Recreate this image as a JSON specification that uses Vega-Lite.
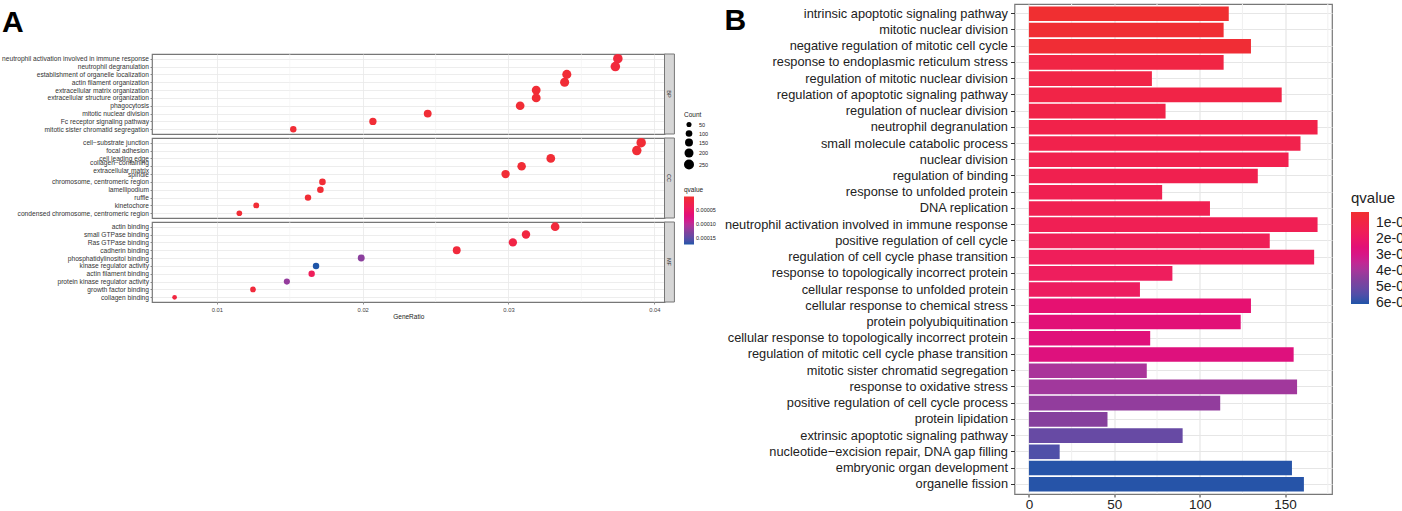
{
  "$schema": "https://vega.github.io/schema/vega-lite/v6.json",
  "padding": {"left": 0, "top": 2, "right": 0, "bottom": 0},
  "background": "white",
  "spacing": 6.5,
  "resolve": {"scale": {"color": "independent", "size": "independent"}, "legend": {"color": "independent", "size": "independent"}},
  "config": {
    "font": "Liberation Sans",
    "view": {"stroke": "#777777", "strokeWidth": 1.2}
  },
  "datasets": {
    "dots": [
      {"panel": "BP", "term": "neutrophil activation involved in immune response", "GeneRatio": 0.0375, "Count": 225, "qvalue": 0.00001},
      {"panel": "BP", "term": "neutrophil degranulation", "GeneRatio": 0.03733, "Count": 224, "qvalue": 0.00001},
      {"panel": "BP", "term": "establishment of organelle localization", "GeneRatio": 0.034, "Count": 204, "qvalue": 0.000005},
      {"panel": "BP", "term": "actin filament organization", "GeneRatio": 0.03385, "Count": 203, "qvalue": 0.000005},
      {"panel": "BP", "term": "extracellular matrix organization", "GeneRatio": 0.0319, "Count": 191, "qvalue": 0.000005},
      {"panel": "BP", "term": "extracellular structure organization", "GeneRatio": 0.0319, "Count": 191, "qvalue": 0.000005},
      {"panel": "BP", "term": "phagocytosis", "GeneRatio": 0.0308, "Count": 185, "qvalue": 0.000005},
      {"panel": "BP", "term": "mitotic nuclear division", "GeneRatio": 0.02446, "Count": 147, "qvalue": 0.000005},
      {"panel": "BP", "term": "Fc receptor signaling pathway", "GeneRatio": 0.0207, "Count": 124, "qvalue": 0.000005},
      {"panel": "BP", "term": "mitotic sister chromatid segregation", "GeneRatio": 0.01524, "Count": 92, "qvalue": 0.000005},
      {"panel": "CC", "term": "cell−substrate junction", "GeneRatio": 0.0391, "Count": 222, "qvalue": 0.000005},
      {"panel": "CC", "term": "focal adhesion", "GeneRatio": 0.0388, "Count": 220, "qvalue": 0.000005},
      {"panel": "CC", "term": "cell leading edge", "GeneRatio": 0.0329, "Count": 187, "qvalue": 0.000005},
      {"panel": "CC", "term": "collagen−containing extracellular matrix", "GeneRatio": 0.0309, "Count": 176, "qvalue": 0.000005},
      {"panel": "CC", "term": "spindle", "GeneRatio": 0.0298, "Count": 170, "qvalue": 0.000005},
      {"panel": "CC", "term": "chromosome, centromeric region", "GeneRatio": 0.01724, "Count": 98, "qvalue": 0.000005},
      {"panel": "CC", "term": "lamellipodium", "GeneRatio": 0.0171, "Count": 97, "qvalue": 0.000005},
      {"panel": "CC", "term": "ruffle", "GeneRatio": 0.01625, "Count": 92, "qvalue": 0.000005},
      {"panel": "CC", "term": "kinetochore", "GeneRatio": 0.0127, "Count": 72, "qvalue": 0.000005},
      {"panel": "CC", "term": "condensed chromosome, centromeric region", "GeneRatio": 0.01154, "Count": 66, "qvalue": 0.000005},
      {"panel": "MF", "term": "actin binding", "GeneRatio": 0.0332, "Count": 183, "qvalue": 0.00001},
      {"panel": "MF", "term": "small GTPase binding", "GeneRatio": 0.0312, "Count": 172, "qvalue": 0.000015},
      {"panel": "MF", "term": "Ras GTPase binding", "GeneRatio": 0.0303, "Count": 167, "qvalue": 0.00002},
      {"panel": "MF", "term": "cadherin binding", "GeneRatio": 0.02645, "Count": 146, "qvalue": 0.00001},
      {"panel": "MF", "term": "phosphatidylinositol binding", "GeneRatio": 0.0199, "Count": 109, "qvalue": 0.000125},
      {"panel": "MF", "term": "kinase regulator activity", "GeneRatio": 0.0168, "Count": 92, "qvalue": 0.000175},
      {"panel": "MF", "term": "actin filament binding", "GeneRatio": 0.0165, "Count": 91, "qvalue": 0.00004},
      {"panel": "MF", "term": "protein kinase regulator activity", "GeneRatio": 0.0148, "Count": 81, "qvalue": 0.00012},
      {"panel": "MF", "term": "growth factor binding", "GeneRatio": 0.01248, "Count": 69, "qvalue": 0.00001},
      {"panel": "MF", "term": "collagen binding", "GeneRatio": 0.0071, "Count": 39, "qvalue": 0.000015}
    ],
    "strips": [
      {"panel": "BP", "from": 0.0407, "to": 0.04138, "mid": 0.04104},
      {"panel": "CC", "from": 0.0407, "to": 0.04138, "mid": 0.04104},
      {"panel": "MF", "from": 0.0407, "to": 0.04138, "mid": 0.04104}
    ],
    "minorA": [{"x": 0.015}, {"x": 0.025}, {"x": 0.035}],
    "minorB": [{"x": 25}, {"x": 75}, {"x": 125}, {"x": 175}],
    "bars": [
      {"term": "intrinsic apoptotic signaling pathway", "count": 117, "qvalue": 3.5e-7},
      {"term": "mitotic nuclear division", "count": 114, "qvalue": 4e-7},
      {"term": "negative regulation of mitotic cell cycle", "count": 130, "qvalue": 4.5e-7},
      {"term": "response to endoplasmic reticulum stress", "count": 114, "qvalue": 9e-7},
      {"term": "regulation of mitotic nuclear division", "count": 72, "qvalue": 1e-6},
      {"term": "regulation of apoptotic signaling pathway", "count": 148, "qvalue": 1e-6},
      {"term": "regulation of nuclear division", "count": 80, "qvalue": 1.05e-6},
      {"term": "neutrophil degranulation", "count": 169, "qvalue": 1.1e-6},
      {"term": "small molecule catabolic process", "count": 159, "qvalue": 1.15e-6},
      {"term": "nuclear division", "count": 152, "qvalue": 1.2e-6},
      {"term": "regulation of binding", "count": 134, "qvalue": 1.25e-6},
      {"term": "response to unfolded protein", "count": 78, "qvalue": 1.3e-6},
      {"term": "DNA replication", "count": 106, "qvalue": 1.35e-6},
      {"term": "neutrophil activation involved in immune response", "count": 169, "qvalue": 1.4e-6},
      {"term": "positive regulation of cell cycle", "count": 141, "qvalue": 1.5e-6},
      {"term": "regulation of cell cycle phase transition", "count": 167, "qvalue": 1.6e-6},
      {"term": "response to topologically incorrect protein", "count": 84, "qvalue": 1.7e-6},
      {"term": "cellular response to unfolded protein", "count": 65, "qvalue": 1.8e-6},
      {"term": "cellular response to chemical stress", "count": 130, "qvalue": 2.3e-6},
      {"term": "protein polyubiquitination", "count": 124, "qvalue": 2.5e-6},
      {"term": "cellular response to topologically incorrect protein", "count": 71, "qvalue": 2.6e-6},
      {"term": "regulation of mitotic cell cycle phase transition", "count": 155, "qvalue": 2.7e-6},
      {"term": "mitotic sister chromatid segregation", "count": 69, "qvalue": 3.9e-6},
      {"term": "response to oxidative stress", "count": 157, "qvalue": 4.05e-6},
      {"term": "positive regulation of cell cycle process", "count": 112, "qvalue": 4.3e-6},
      {"term": "protein lipidation", "count": 46, "qvalue": 4.5e-6},
      {"term": "extrinsic apoptotic signaling pathway", "count": 90, "qvalue": 5.1e-6},
      {"term": "nucleotide−excision repair, DNA gap filling", "count": 18, "qvalue": 5.5e-6},
      {"term": "embryonic organ development", "count": 154, "qvalue": 6e-6},
      {"term": "organelle fission", "count": 161, "qvalue": 6e-6}
    ]
  },
  "hconcat": [
    {
      "spacing": 4,
      "bounds": "flush",
      "resolve": {"scale": {"color": "independent", "size": "independent"}, "legend": {"color": "independent", "size": "independent"}},
      "vconcat": [
        {
          "width": 512.5,
          "height": 46,
          "view": {"stroke": null},
          "title": {"text": "A", "fontSize": 30, "fontWeight": "bold", "color": "black", "anchor": "start", "frame": "group", "dx": -150, "dy": 34, "offset": 0},
          "data": {"values": []},
          "mark": {"type": "point"},
          "encoding": {}
        },
        {
          "width": 512.5,
          "height": 80,
          "layer": [
            {"data": {"name": "minorA"}, "mark": {"type": "rule", "color": "#F1F1F1", "strokeWidth": 0.6}, "encoding": {"x": {"field": "x", "type": "quantitative"}}},
            {
              "data": {"name": "dots"},
              "transform": [{"filter": "datum.panel == 'BP'"}],
              "mark": {"type": "circle", "opacity": 1},
              "encoding": {
                "x": {"field": "GeneRatio", "type": "quantitative", "scale": {"domain": [0.00555, 0.0407], "nice": false, "zero": false}, "axis": {"values": [0.01, 0.02, 0.03, 0.04], "labels": false, "ticks": false, "domain": false, "title": null, "gridColor": "#E8E8E8", "gridWidth": 0.8}},
                "y": {"field": "term", "type": "ordinal", "sort": null, "scale": {"type": "point", "padding": 0.6}, "axis": {"title": null, "labelFontSize": 6.65, "labelColor": "#333333", "labelLimit": 300, "labelOverlap": false, "labelPadding": 1.5, "tickSize": 2, "tickColor": "#444444", "tickWidth": 0.6, "domain": false, "grid": true, "gridColor": "#E8E8E8", "gridWidth": 0.8}},
                "size": {"field": "Count", "type": "quantitative", "scale": {"domain": [50, 250], "range": [26, 100], "zero": false}, "legend": null},
                "color": {"field": "qvalue", "type": "quantitative", "scale": {"domain": [0.000175, 0.000131, 0.0000875, 0.0000437, 0], "range": ["#1F55A8", "#7F429C", "#D21A8C", "#EE1E5E", "#F03030"]}, "legend": null}
              }
            },
            {"data": {"name": "strips"}, "transform": [{"filter": "datum.panel == 'BP'"}], "mark": {"type": "rect", "fill": "#D6D6D6", "stroke": "#777777", "strokeWidth": 1}, "encoding": {"x": {"field": "from", "type": "quantitative"}, "x2": {"field": "to"}}},
            {"data": {"name": "strips"}, "transform": [{"filter": "datum.panel == 'BP'"}], "mark": {"type": "text", "angle": 90, "fontSize": 5.5, "color": "#333333"}, "encoding": {"x": {"field": "mid", "type": "quantitative"}, "text": {"field": "panel"}}}
          ]
        },
        {
          "width": 512.5,
          "height": 80,
          "layer": [
            {"data": {"name": "minorA"}, "mark": {"type": "rule", "color": "#F1F1F1", "strokeWidth": 0.6}, "encoding": {"x": {"field": "x", "type": "quantitative"}}},
            {
              "data": {"name": "dots"},
              "transform": [{"filter": "datum.panel == 'CC'"}],
              "mark": {"type": "circle", "opacity": 1},
              "encoding": {
                "x": {"field": "GeneRatio", "type": "quantitative", "scale": {"domain": [0.00555, 0.0407], "nice": false, "zero": false}, "axis": {"values": [0.01, 0.02, 0.03, 0.04], "labels": false, "ticks": false, "domain": false, "title": null, "gridColor": "#E8E8E8", "gridWidth": 0.8}},
                "y": {"field": "term", "type": "ordinal", "sort": null, "scale": {"type": "point", "padding": 0.6}, "axis": {"title": null, "labelFontSize": 6.65, "labelColor": "#333333", "labelLimit": 300, "labelOverlap": false, "labelPadding": 1.5, "tickSize": 2, "tickColor": "#444444", "tickWidth": 0.6, "domain": false, "grid": true, "gridColor": "#E8E8E8", "gridWidth": 0.8, "labelOffset": {"condition": {"test": "datum.value == 'collagen−containing extracellular matrix'", "value": -4}, "value": 0}, "labelExpr": "datum.value == 'collagen−containing extracellular matrix' ? ['collagen−containing', 'extracellular matrix'] : datum.label"}},
                "size": {"field": "Count", "type": "quantitative", "scale": {"domain": [50, 250], "range": [26, 100], "zero": false}, "legend": {"orient": "none", "legendX": 532, "legendY": -26, "title": "Count", "titleFontSize": 6.5, "titleFontWeight": "normal", "titleColor": "#222222", "titlePadding": 3, "labelFontSize": 5.5, "labelColor": "#222222", "values": [50, 100, 150, 200, 250], "symbolFillColor": "black", "symbolStrokeColor": "black", "symbolStrokeWidth": 0, "symbolType": "circle", "rowPadding": 1.5, "labelOffset": 5}},
                "color": {"field": "qvalue", "type": "quantitative", "scale": {"domain": [0.000175, 0.000131, 0.0000875, 0.0000437, 0], "range": ["#1F55A8", "#7F429C", "#D21A8C", "#EE1E5E", "#F03030"]}, "legend": {"orient": "none", "legendX": 532, "legendY": 49, "title": "qvalue", "titleFontSize": 6.5, "titleFontWeight": "normal", "titleColor": "#222222", "titlePadding": 3, "labelFontSize": 5.5, "labelColor": "#222222", "gradientLength": 48, "gradientThickness": 10, "values": [0.00005, 0.0001, 0.00015], "format": ".5f", "labelOverlap": false}}
              }
            },
            {"data": {"name": "strips"}, "transform": [{"filter": "datum.panel == 'CC'"}], "mark": {"type": "rect", "fill": "#D6D6D6", "stroke": "#777777", "strokeWidth": 1}, "encoding": {"x": {"field": "from", "type": "quantitative"}, "x2": {"field": "to"}}},
            {"data": {"name": "strips"}, "transform": [{"filter": "datum.panel == 'CC'"}], "mark": {"type": "text", "angle": 90, "fontSize": 5.5, "color": "#333333"}, "encoding": {"x": {"field": "mid", "type": "quantitative"}, "text": {"field": "panel"}}}
          ]
        },
        {
          "width": 512.5,
          "height": 80,
          "layer": [
            {"data": {"name": "minorA"}, "mark": {"type": "rule", "color": "#F1F1F1", "strokeWidth": 0.6}, "encoding": {"x": {"field": "x", "type": "quantitative"}}},
            {
              "data": {"name": "dots"},
              "transform": [{"filter": "datum.panel == 'MF'"}],
              "mark": {"type": "circle", "opacity": 1},
              "encoding": {
                "x": {"field": "GeneRatio", "type": "quantitative", "scale": {"domain": [0.00555, 0.0407], "nice": false, "zero": false}, "axis": {"values": [0.01, 0.02, 0.03, 0.04], "format": ".2f", "title": "GeneRatio", "titleFontSize": 6.5, "titleFontWeight": "normal", "titleColor": "#222222", "titlePadding": 2, "labelFontSize": 5.8, "labelColor": "#444444", "labelPadding": 2, "tickSize": 2, "tickColor": "#444444", "tickWidth": 0.6, "domain": false, "gridColor": "#E8E8E8", "gridWidth": 0.8}},
                "y": {"field": "term", "type": "ordinal", "sort": null, "scale": {"type": "point", "padding": 0.6}, "axis": {"title": null, "labelFontSize": 6.65, "labelColor": "#333333", "labelLimit": 300, "labelOverlap": false, "labelPadding": 1.5, "tickSize": 2, "tickColor": "#444444", "tickWidth": 0.6, "domain": false, "grid": true, "gridColor": "#E8E8E8", "gridWidth": 0.8}},
                "size": {"field": "Count", "type": "quantitative", "scale": {"domain": [50, 250], "range": [26, 100], "zero": false}, "legend": null},
                "color": {"field": "qvalue", "type": "quantitative", "scale": {"domain": [0.000175, 0.000131, 0.0000875, 0.0000437, 0], "range": ["#1F55A8", "#7F429C", "#D21A8C", "#EE1E5E", "#F03030"]}, "legend": null}
              }
            },
            {"data": {"name": "strips"}, "transform": [{"filter": "datum.panel == 'MF'"}], "mark": {"type": "rect", "fill": "#D6D6D6", "stroke": "#777777", "strokeWidth": 1}, "encoding": {"x": {"field": "from", "type": "quantitative"}, "x2": {"field": "to"}}},
            {"data": {"name": "strips"}, "transform": [{"filter": "datum.panel == 'MF'"}], "mark": {"type": "text", "angle": 90, "fontSize": 5.5, "color": "#333333"}, "encoding": {"x": {"field": "mid", "type": "quantitative"}, "text": {"field": "panel"}}}
          ]
        }
      ]
    },
    {
      "width": 317.5,
      "height": 490,
      "title": {"text": "B", "fontSize": 30, "fontWeight": "bold", "color": "black", "anchor": "start", "frame": "group", "dx": -290, "dy": 32, "offset": 0},
      "layer": [
        {"data": {"name": "minorB"}, "mark": {"type": "rule", "color": "#F0F0F0", "strokeWidth": 1}, "encoding": {"x": {"field": "x", "type": "quantitative"}}},
        {
          "data": {"name": "bars"},
          "mark": {"type": "bar"},
          "encoding": {
            "x": {"field": "count", "type": "quantitative", "scale": {"domain": [-8.45, 177.45], "nice": false, "zero": false}, "axis": {"values": [0, 50, 100, 150], "title": null, "labelFontSize": 13.5, "labelColor": "#222222", "labelPadding": 0, "tickSize": 3, "tickColor": "#333333", "domain": false, "gridColor": "#E6E6E6", "gridWidth": 1.2}},
            "y": {"field": "term", "type": "ordinal", "sort": null, "scale": {"type": "band", "paddingInner": 0.1, "paddingOuter": 0.15}, "axis": {"title": null, "labelFontSize": 12.8, "labelColor": "#222222", "labelLimit": 400, "labelOverlap": false, "labelPadding": 3, "tickSize": 4, "tickColor": "#333333", "domain": false, "grid": true, "gridColor": "#E6E6E6", "gridWidth": 1.2}},
            "color": {"field": "qvalue", "type": "quantitative", "scale": {"domain": [6.06e-6, 4.623e-6, 3.185e-6, 1.748e-6, 3.1e-7], "range": ["#1F55A8", "#7F429C", "#D21A8C", "#EE1E5E", "#F03030"]}, "legend": {"orient": "none", "legendX": 336.5, "legendY": 187, "title": "qvalue", "titleFontSize": 15, "titleFontWeight": "normal", "titleColor": "#222222", "titlePadding": 6, "labelFontSize": 14, "labelColor": "#222222", "labelOffset": 7, "gradientLength": 92, "gradientThickness": 18, "values": [1e-6, 2e-6, 3e-6, 4e-6, 5e-6, 6e-6], "labelExpr": "replace(format(datum.value, '.0e'), 'e-', 'e-0')", "labelOverlap": false}}
          }
        }
      ]
    }
  ]
}
